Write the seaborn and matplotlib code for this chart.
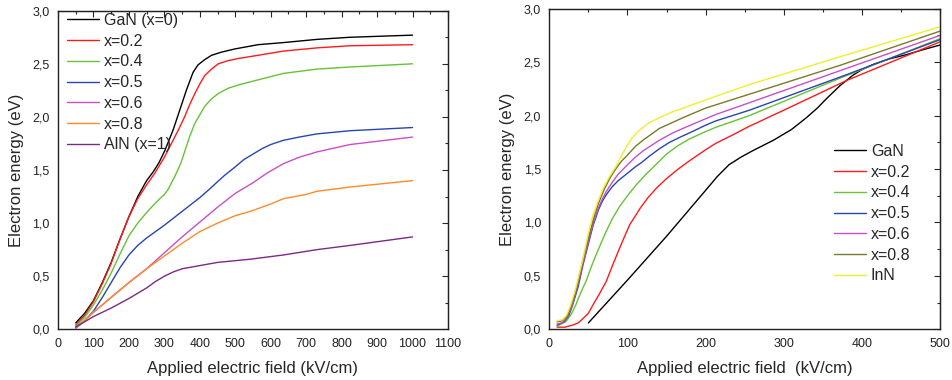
import numpy as np
import pandas as pd
import matplotlib
matplotlib.use("Agg")
import matplotlib.pyplot as plt
from matplotlib.ticker import MultipleLocator, FuncFormatter
import seaborn as sns

# ---------------- Left panel: AlGaN ----------------
left_labels = ["GaN (x=0)", "x=0.2", "x=0.4", "x=0.5", "x=0.6", "x=0.8", "AlN (x=1)"]
left_colors = ["#000000", "#ff1a1a", "#66c236", "#2a44b0", "#c84fc8", "#ff8a2a", "#7a2a86"]

gan_E = [50, 75, 100, 125, 150, 175, 200, 225, 250, 268, 285, 301, 325, 343, 362, 381, 395,
         414, 433, 461, 499, 564, 636, 730, 824, 1000]
gan_V = [0.06, 0.15, 0.27, 0.44, 0.63, 0.85, 1.06, 1.25, 1.40, 1.48, 1.57, 1.68, 1.88, 2.06,
         2.25, 2.42, 2.49, 2.54, 2.58, 2.61, 2.64, 2.68, 2.70, 2.73, 2.75, 2.77]

x02_E = [50, 75, 100, 125, 150, 175, 200, 225, 250, 273, 300, 320, 340, 357, 372, 386, 400,
         414, 433, 452, 480, 508, 564, 636, 730, 824, 1000]
x02_V = [0.04, 0.13, 0.26, 0.43, 0.62, 0.85, 1.06, 1.23, 1.36, 1.47, 1.62, 1.75, 1.88, 2.00,
         2.12, 2.22, 2.31, 2.39, 2.45, 2.50, 2.53, 2.55, 2.58, 2.62, 2.65, 2.67, 2.68]

x04_E = [50, 75, 100, 125, 150, 175, 200, 225, 250, 275, 300, 311, 331, 346, 357, 372, 386,
         400, 414, 433, 452, 480, 508, 542, 589, 636, 730, 824, 1000]
x04_V = [0.03, 0.11, 0.23, 0.37, 0.53, 0.71, 0.88, 1.00, 1.10, 1.19, 1.27, 1.32, 1.45, 1.56,
         1.67, 1.82, 1.94, 2.02, 2.10, 2.17, 2.22, 2.27, 2.30, 2.33, 2.37, 2.41, 2.45, 2.47, 2.50]

x05_E = [50, 75, 100, 125, 150, 175, 200, 225, 250, 275, 300, 350, 400, 424, 450, 470, 500,
         525, 550, 575, 600, 636, 680, 730, 824, 1000]
x05_V = [0.02, 0.08, 0.17, 0.30, 0.44, 0.58, 0.70, 0.79, 0.86, 0.92, 0.98, 1.11, 1.24, 1.31,
         1.39, 1.45, 1.53, 1.60, 1.65, 1.70, 1.74, 1.78, 1.81, 1.84, 1.87, 1.90]

x06_E = [50, 75, 100, 150, 200, 250, 300, 350, 400, 450, 500, 550, 589, 636, 680, 730, 824, 1000]
x06_V = [0.01, 0.08, 0.16, 0.30, 0.44, 0.57, 0.72, 0.87, 1.01, 1.15, 1.28, 1.38, 1.47, 1.56,
         1.62, 1.67, 1.74, 1.81]

x08_E = [50, 75, 100, 150, 200, 250, 300, 350, 400, 450, 500, 542, 600, 636, 700, 730, 824, 1000]
x08_V = [0.01, 0.08, 0.16, 0.30, 0.44, 0.57, 0.69, 0.81, 0.92, 1.00, 1.07, 1.11, 1.18, 1.23,
         1.27, 1.30, 1.34, 1.40]

aln_E = [50, 75, 100, 150, 200, 250, 275, 300, 325, 350, 400, 450, 542, 636, 730, 824, 1000]
aln_V = [0.02, 0.07, 0.12, 0.20, 0.29, 0.39, 0.45, 0.50, 0.54, 0.57, 0.60, 0.63, 0.66, 0.70,
         0.75, 0.79, 0.87]

left_series = [(gan_E, gan_V), (x02_E, x02_V), (x04_E, x04_V), (x05_E, x05_V),
               (x06_E, x06_V), (x08_E, x08_V), (aln_E, aln_V)]

# ---------------- Right panel: InGaN ----------------
right_labels = ["GaN", "x=0.2", "x=0.4", "x=0.5", "x=0.6", "x=0.8", "InN"]
right_colors = ["#000000", "#ff1a1a", "#66c236", "#2a44b0", "#c84fc8", "#7a7a2a", "#f2ee2a"]

rgan_E = [50, 100, 150, 200, 215, 230, 245, 260, 287, 310, 329, 343, 355, 372, 389, 400,
          415, 435, 457, 480, 500]
rgan_V = [0.06, 0.46, 0.87, 1.30, 1.43, 1.54, 1.61, 1.67, 1.77, 1.87, 1.98, 2.07, 2.16, 2.28,
          2.38, 2.43, 2.48, 2.53, 2.57, 2.62, 2.66]

r02_E = [10, 20, 30, 37, 43, 50, 56, 64, 73, 81, 90, 97, 103, 110, 116, 126, 137, 150, 165,
         180, 200, 213, 235, 256, 300, 381, 500]
r02_V = [0.02, 0.02, 0.04, 0.06, 0.10, 0.15, 0.23, 0.33, 0.45, 0.60, 0.76, 0.88, 0.98, 1.06,
         1.13, 1.23, 1.32, 1.41, 1.50, 1.58, 1.68, 1.74, 1.82, 1.90, 2.05, 2.33, 2.69]

r04_E = [10, 21, 28, 34, 40, 47, 54, 60, 67, 73, 81, 90, 100, 111, 125, 139, 150, 165, 179,
         200, 213, 256, 372, 500]
r04_V = [0.03, 0.07, 0.14, 0.23, 0.34, 0.45, 0.59, 0.70, 0.82, 0.92, 1.04, 1.15, 1.25, 1.35,
         1.46, 1.56, 1.64, 1.72, 1.78, 1.85, 1.89, 2.00, 2.35, 2.72]

r05_E = [10, 19, 25, 30, 37, 43, 50, 56, 63, 68, 73, 80, 88, 100, 110, 118, 128, 141, 154,
         168, 183, 200, 213, 256, 372, 500]
r05_V = [0.04, 0.07, 0.13, 0.23, 0.40, 0.60, 0.80, 0.97, 1.12, 1.20, 1.26, 1.33, 1.39, 1.46,
         1.52, 1.56, 1.62, 1.69, 1.75, 1.80, 1.85, 1.91, 1.95, 2.05, 2.36, 2.71]

r06_E = [10, 17, 24, 30, 37, 43, 50, 56, 63, 68, 73, 80, 88, 100, 110, 120, 141, 156, 171,
         200, 213, 256, 372, 500]
r06_V = [0.05, 0.06, 0.13, 0.24, 0.43, 0.62, 0.82, 0.99, 1.14, 1.22, 1.29, 1.37, 1.45, 1.54,
         1.61, 1.67, 1.77, 1.83, 1.88, 1.97, 2.01, 2.12, 2.42, 2.75]

r08_E = [10, 17, 24, 30, 37, 43, 50, 56, 63, 71, 78, 85, 92, 100, 110, 120, 141, 156, 171,
         200, 213, 256, 372, 500]
r08_V = [0.07, 0.08, 0.14, 0.26, 0.45, 0.65, 0.85, 1.02, 1.18, 1.32, 1.42, 1.50, 1.57, 1.63,
         1.71, 1.77, 1.88, 1.93, 1.98, 2.07, 2.10, 2.20, 2.47, 2.79]

rinn_E = [10, 17, 22, 27, 33, 43, 50, 56, 63, 69, 77, 85, 92, 98, 106, 115, 127, 141, 156,
          171, 213, 256, 372, 500]
rinn_V = [0.08, 0.09, 0.13, 0.22, 0.36, 0.66, 0.90, 1.07, 1.21, 1.32, 1.43, 1.52, 1.62, 1.70,
          1.79, 1.86, 1.93, 1.98, 2.03, 2.07, 2.18, 2.29, 2.55, 2.83]

right_series = [(rgan_E, rgan_V), (r02_E, r02_V), (r04_E, r04_V), (r05_E, r05_V),
                (r06_E, r06_V), (r08_E, r08_V), (rinn_E, rinn_V)]


def to_long(series, labels):
    frames = []
    for (e, v), lab in zip(series, labels):
        frames.append(pd.DataFrame({"E": e, "V": v, "series": lab}))
    return pd.concat(frames, ignore_index=True)


sns.set_style("white")
plt.rcParams["font.family"] = ["Liberation Sans", "DejaVu Sans"]

fig = plt.figure(figsize=(9.52, 3.8), dpi=100)
axL = fig.add_axes([0.0609, 0.1334, 0.4097, 0.8384])
axR = fig.add_axes([0.5770, 0.1334, 0.4104, 0.8437])

comma = FuncFormatter(lambda v, p: f"{v:.1f}".replace(".", ","))


def style_axes(ax, xmax, xlabel):
    ax.set_xlim(0, xmax)
    ax.set_ylim(0, 3.0)
    ax.xaxis.set_major_locator(MultipleLocator(100))
    ax.xaxis.set_minor_locator(MultipleLocator(50))
    ax.yaxis.set_major_locator(MultipleLocator(0.5))
    ax.yaxis.set_minor_locator(MultipleLocator(0.25))
    ax.yaxis.set_major_formatter(comma)
    ax.tick_params(which="major", direction="out", length=4, width=0.8, labelsize=9, pad=2,
                   colors="#222222")
    ax.tick_params(which="minor", direction="out", length=2.5, width=0.8)
    for s in ax.spines.values():
        s.set_linewidth(1.0)
        s.set_color("#222222")
    top = ax.secondary_xaxis("top")
    top.xaxis.set_major_locator(MultipleLocator(100))
    top.xaxis.set_minor_locator(MultipleLocator(50))
    top.tick_params(which="major", direction="in", length=4, width=0.8, labeltop=False)
    top.tick_params(which="minor", direction="in", length=2.5, width=0.8)
    right = ax.secondary_yaxis("right")
    right.yaxis.set_major_locator(MultipleLocator(0.5))
    right.yaxis.set_minor_locator(MultipleLocator(0.25))
    right.tick_params(which="major", direction="in", length=4, width=0.8, labelright=False)
    right.tick_params(which="minor", direction="in", length=2.5, width=0.8)
    ax.set_xlabel(xlabel, fontsize=12, labelpad=8)
    ax.set_ylabel("Electron energy (eV)", fontsize=12, labelpad=6)


legend_kw = dict(loc="upper left", frameon=False, fontsize=11.5, handlelength=2.0,
                 handletextpad=0.3, labelspacing=0.36, borderpad=0.0, borderaxespad=0.0)

dfL = to_long(left_series, left_labels)
sns.lineplot(data=dfL, x="E", y="V", hue="series", hue_order=left_labels,
             palette=left_colors, sort=False, estimator=None, linewidth=1.0, ax=axL)
style_axes(axL, 1100, "Applied electric field (kV/cm)")
axL.legend(bbox_to_anchor=(0.023, 0.993), **legend_kw)

dfR = to_long(right_series, right_labels)
sns.lineplot(data=dfR, x="E", y="V", hue="series", hue_order=right_labels,
             palette=right_colors, sort=False, estimator=None, linewidth=1.0, ax=axR)
style_axes(axR, 500, "Applied electric field  (kV/cm)")
axR.legend(bbox_to_anchor=(0.729, 0.578), **legend_kw)

fig.savefig("out.png", dpi=100)
